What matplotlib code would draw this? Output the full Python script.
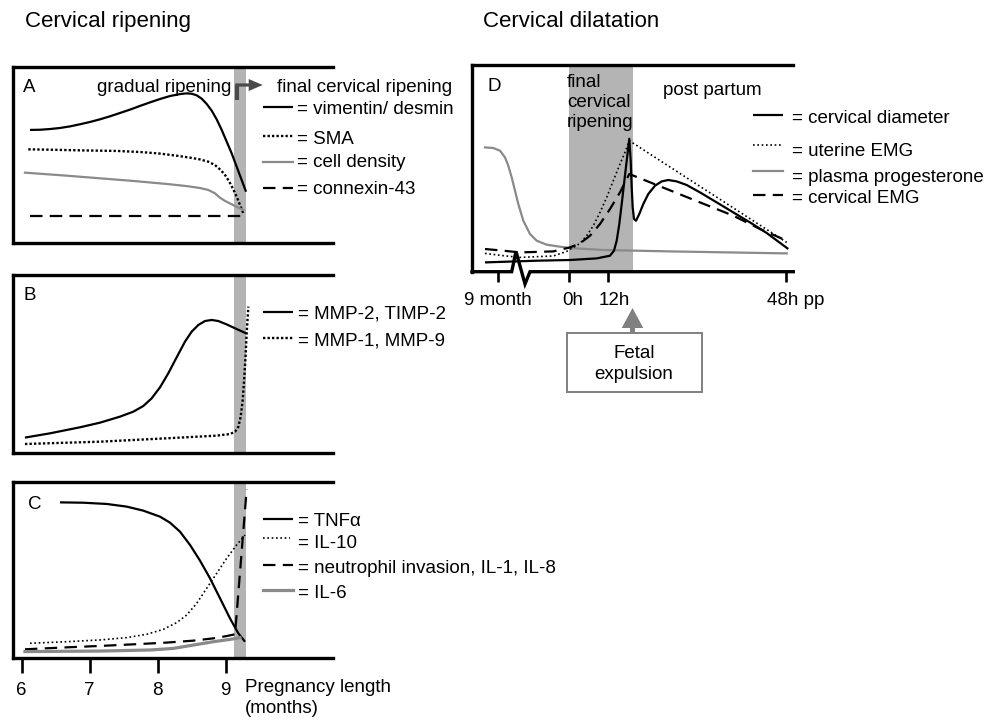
import matplotlib
matplotlib.use('Agg')
import matplotlib.pyplot as plt
from matplotlib import transforms
from matplotlib.lines import Line2D
from matplotlib.patches import Rectangle, FancyArrow

plt.rcParams['font.family'] = ['Liberation Sans', 'DejaVu Sans']

# ---------------- data (schematic levels, arbitrary units) ----------------
# Panel A  (x = pregnancy month)
a_month_vim = [6.122, 6.269, 6.416, 6.563, 6.710, 6.857, 7.004, 7.151, 7.298, 7.446, 7.593, 7.740,
               7.887, 8.034, 8.181, 8.328, 8.426, 8.499, 8.573, 8.647, 8.720, 8.794, 8.867, 8.941,
               9.014, 9.088, 9.161, 9.235, 9.299]
a_vimentin = [0.642, 0.643, 0.647, 0.653, 0.662, 0.674, 0.687, 0.702, 0.719, 0.738, 0.757, 0.778,
              0.798, 0.817, 0.834, 0.845, 0.849, 0.847, 0.838, 0.819, 0.789, 0.751, 0.702, 0.642,
              0.576, 0.509, 0.434, 0.358, 0.292]
a_month_sma = [6.097, 6.416, 6.906, 7.396, 7.740, 8.034, 8.279, 8.475, 8.622, 8.744, 8.842, 8.926,
               8.990, 9.053, 9.112, 9.171, 9.220, 9.259]
a_sma = [0.532, 0.530, 0.526, 0.523, 0.517, 0.508, 0.496, 0.485, 0.475, 0.462, 0.443, 0.415,
         0.387, 0.349, 0.305, 0.255, 0.207, 0.170]
a_month_cell = [6.048, 6.661, 7.151, 7.642, 8.132, 8.426, 8.622, 8.744, 8.842, 8.916, 8.990, 9.088,
                9.186, 9.259]
a_cell = [0.400, 0.383, 0.368, 0.353, 0.336, 0.324, 0.313, 0.302, 0.283, 0.258, 0.240, 0.221,
          0.202, 0.189]
a_month_cx = [6.12, 9.26]
a_connexin = [0.156, 0.156]

# Panel B
b_month_mmp2 = [6.048, 6.416, 6.857, 7.151, 7.446, 7.642, 7.789, 7.911, 8.034, 8.156, 8.279, 8.401,
                8.499, 8.598, 8.695, 8.794, 8.892, 9.014, 9.161, 9.299]
b_mmp2 = [0.085, 0.109, 0.143, 0.169, 0.203, 0.231, 0.263, 0.306, 0.368, 0.447, 0.537, 0.625,
          0.681, 0.719, 0.741, 0.747, 0.741, 0.722, 0.696, 0.672]
b_month_mmp1 = [6.048, 7.151, 8.132, 8.867, 9.063, 9.137, 9.186, 9.220, 9.250, 9.274, 9.294, 9.308, 9.333]
b_mmp1 = [0.049, 0.062, 0.081, 0.096, 0.105, 0.118, 0.146, 0.203, 0.297, 0.428, 0.559, 0.672, 0.822]

# Panel C
c_month_tnf = [6.563, 6.906, 7.249, 7.543, 7.789, 8.034, 8.181, 8.328, 8.475, 8.622, 8.769, 8.916,
               9.063, 9.186, 9.284]
c_tnf = [0.883, 0.881, 0.874, 0.859, 0.836, 0.802, 0.768, 0.717, 0.642, 0.553, 0.453, 0.340,
         0.226, 0.141, 0.094]
c_month_il10 = [6.122, 6.661, 7.151, 7.543, 7.838, 8.083, 8.279, 8.426, 8.573, 8.720, 8.867, 9.014,
                9.161, 9.284]
c_il10 = [0.085, 0.094, 0.104, 0.117, 0.136, 0.164, 0.202, 0.245, 0.311, 0.396, 0.481, 0.566,
          0.642, 0.698]
c_month_neu = [6.048, 6.661, 7.151, 7.740, 8.132, 8.524, 8.818, 9.014, 9.137, 9.308]
c_neutrophil = [0.051, 0.062, 0.070, 0.081, 0.089, 0.100, 0.113, 0.126, 0.136, 0.957]
c_month_il6 = [6.048, 7.151, 7.887, 8.230, 8.524, 8.818, 9.063, 9.210]
c_il6 = [0.038, 0.041, 0.047, 0.056, 0.075, 0.094, 0.107, 0.117]

month_ticks = [6, 7, 8, 9]
month_labels = ['6', '7', '8', '9']
final_ripening_months = (9.12, 9.30)

# Panel D (x = schematic time position)
d_t_prog = [1, 9.3, 16, 21, 24.3, 27.7, 31, 34.3, 39.3, 46, 52.7, 62.7, 76, 86, 119.3, 186, 302.7]
d_progesterone = [124.3, 123.7, 121, 114.3, 106, 94.3, 81, 67.7, 51, 37.7, 31, 27, 25, 23.7,
                  21.7, 20.3, 18.3]
d_t_diam = [1, 52.7, 86, 112.7, 126, 130, 132.7, 135.3, 137.7, 140, 142.7, 145.3, 146.7, 147.7,
            148.7, 150, 152, 155.3, 159.3, 164.3, 171, 177.7, 184.3, 192.7, 202.7, 216, 232.7,
            249.3, 266, 282.7, 304.3]
d_diameter = [9.3, 11, 11.7, 13.3, 16, 21, 31, 47.7, 67.7, 87.7, 111, 133, 111, 84.3,
              64.3, 52.7, 51, 57.7, 67.7, 77.7, 86, 90.3, 91.7, 90.3, 86.7, 79.3, 69.3,
              59.3, 49.3, 38.7, 22.7]
d_t_uemg = [1, 19.3, 36, 69.3, 82.7, 89.3, 96, 102.7, 109.3, 116, 122.7, 129.3, 136, 141, 145.3, 302.7]
d_uterine_emg = [18.3, 16, 14.3, 15.7, 20.3, 24.3, 28.3, 36, 46, 59.3, 74.3, 91, 107.7, 119.3, 131, 29.3]
d_t_cemg = [1, 19.3, 36, 69.3, 86, 96, 106, 116, 126, 136, 145.3, 182.7, 216, 249.3, 276, 302.7]
d_cervical_emg = [22.7, 21, 19.3, 20.3, 24.3, 28.3, 36, 47.7, 62.7, 79.3, 97.7, 82.7, 69.3, 56, 42.7, 31]
d_ticks = [14.3, 85.3, 124, 302]
d_tick_labels = ['9 month', '0h', '12h', '48h pp']
d_final_ripening = (85.3, 148.7)
d_axis_break_x = [-12, 27.7, 32, 41, 46, 309.3]
d_axis_break_y = [0, 0, 20.3, -12.3, 0, 0]

# ---------------- styling ----------------
W, H = 988, 724
FS = 13.5
FS_T = 16
GREY = '#8a8a8a'
BAND = '#b4b4b4'
SPLW = 2.4

fig = plt.figure(figsize=(W / 100, H / 100), dpi=100)
PX = transforms.Affine2D().scale(1 / W, -1 / H).translate(0, 1) + fig.transFigure


def axes_px(l, t, r, b):
    return fig.add_axes([l / W, 1 - b / H, (r - l) / W, (b - t) / H])


def style_axes(ax):
    ax.spines['right'].set_visible(False)
    for s in ('left', 'top', 'bottom'):
        ax.spines[s].set_linewidth(SPLW)
    ax.set_yticks([])
    ax.patch.set_alpha(0)


def txt(x, y, s, size=FS, **kw):
    kw.setdefault('ha', 'left')
    kw.setdefault('va', 'baseline')
    fig.text(x, y, s, transform=PX, fontsize=size, **kw)


def legend_row(x0, x1, yh, xt, yt, label, **style):
    fig.add_artist(Line2D([x0, x1], [yh, yh], transform=PX, **style))
    txt(xt, yt, label)


solid = dict(color='black', lw=1.6, solid_capstyle='butt', solid_joinstyle='round')
dotted = dict(color='black', lw=1.7, linestyle=(0, (1, 0.9)))
dotted_thin = dict(color='black', lw=1.2, linestyle=(0, (1, 1.6)))
grey = dict(color=GREY, lw=1.6, solid_joinstyle='round')
grey_thick = dict(color=GREY, lw=2.3, solid_joinstyle='round')
dashed = dict(color='black', lw=1.6, linestyle=(0, (5.6, 3.3)))

XL = (5.8765, 10.582)

# ---------------- panel A ----------------
axA = axes_px(13.3, 66.7, 333.3, 243.3)
style_axes(axA)
axA.set_xticks([])
axA.set_xlim(*XL)
axA.set_ylim(0, 1)
axA.axvspan(*final_ripening_months, color=BAND, lw=0, zorder=0)
axA.plot(a_month_vim, a_vimentin, **solid)
axA.plot(a_month_sma, a_sma, **dotted)
axA.plot(a_month_cell, a_cell, **grey)
axA.plot(a_month_cx, a_connexin, **dashed)

# ---------------- panel B ----------------
axB = axes_px(13.3, 275, 333.3, 452.7)
style_axes(axB)
axB.set_xticks([])
axB.set_xlim(*XL)
axB.set_ylim(0, 1)
axB.axvspan(*final_ripening_months, color=BAND, lw=0, zorder=0)
axB.plot(b_month_mmp2, b_mmp2, **solid)
axB.plot(b_month_mmp1, b_mmp1, **dotted)

# ---------------- panel C ----------------
axC = axes_px(13.3, 481.7, 333.3, 658.3)
style_axes(axC)
axC.set_xlim(*XL)
axC.set_ylim(0, 1)
axC.axvspan(*final_ripening_months, color=BAND, lw=0, zorder=0)
axC.plot(c_month_tnf, c_tnf, **solid)
axC.plot(c_month_il10, c_il10, **dotted_thin)
axC.plot(c_month_neu, c_neutrophil, **dashed)
axC.plot(c_month_il6, c_il6, **grey_thick)
axC.set_xticks(month_ticks)
axC.set_xticklabels(month_labels, fontsize=FS)
axC.tick_params(axis='x', direction='out', length=11, width=1.9, pad=6)

# ---------------- panel D ----------------
axD = axes_px(472, 65, 793.3, 271.7)
style_axes(axD)
axD.spines['bottom'].set_visible(False)
axD.set_xlim(-12, 309.3)
axD.set_ylim(0, 206.7)
axD.axvspan(*d_final_ripening, color=BAND, lw=0, zorder=0)
axD.plot(d_t_prog, d_progesterone, **grey)
axD.plot(d_t_uemg, d_uterine_emg, **dotted_thin)
axD.plot(d_t_cemg, d_cervical_emg, **dashed)
axD.plot(d_t_diam, d_diameter, **solid)
axD.plot(d_axis_break_x, d_axis_break_y, color='black', lw=SPLW, clip_on=False,
         solid_joinstyle='miter', zorder=5)
axD.set_xticks(d_ticks)
axD.set_xticklabels(d_tick_labels, fontsize=FS)
axD.tick_params(axis='x', direction='out', length=7.5, width=1.9, pad=7)
d_label_shift = [0, 3, 6, 10]
for lab, dx in zip(axD.get_xticklabels(), d_label_shift):
    lab.set_transform(lab.get_transform() + transforms.ScaledTranslation(dx / 100, 0, fig.dpi_scale_trans))

# ---------------- texts ----------------
txt(25, 27, 'Cervical ripening', size=FS_T)
txt(483, 27, 'Cervical dilatation', size=FS_T)

txt(23, 92, 'A')
txt(97, 92, 'gradual ripening')
txt(277, 92, 'final cervical ripening')
txt(23, 300, 'B')
txt(28, 509, 'C')
txt(487, 91, 'D')
txt(567, 74, 'final\ncervical\nripening', va='top', linespacing=1.22)
txt(663, 95, 'post partum')
txt(245, 692, 'Pregnancy length')
txt(245, 713, '(months)')

# bent arrow in panel A
ARROW_C = '#4a4a4a'
fig.add_artist(Line2D([236.7, 236.7], [100, 85], transform=PX, color=ARROW_C, lw=3, solid_capstyle='butt'))
fig.add_artist(FancyArrow(235.2, 85, 27.5, 0, width=3.2, head_width=12, head_length=14,
                          length_includes_head=True, transform=PX, color=ARROW_C, lw=0))

# legends
legend_row(263, 293, 106.7, 297, 113.5, '= vimentin/ desmin', **solid)
legend_row(263, 293, 136, 297, 143.5, '= SMA', **dotted)
legend_row(263, 293, 161.7, 297, 167, '= cell density', **grey)
legend_row(263, 293, 188.3, 297, 194.5, '= connexin-43', **dashed)

legend_row(263, 293, 311.7, 298, 318.5, '= MMP-2, TIMP-2', **solid)
legend_row(263, 293, 338.3, 298, 345, '= MMP-1, MMP-9', **dotted)

legend_row(263, 293, 519.3, 298, 526.5, '= TNF\u03b1', **solid)
legend_row(263, 290, 538.3, 298, 548, '= IL-10', **dotted_thin)
legend_row(263, 293, 565, 298, 573, '= neutrophil invasion, IL-1, IL-8', **dashed)
legend_row(263, 293, 590, 298, 598, '= IL-6', **grey_thick)

legend_row(753, 783, 115, 792, 123, '= cervical diameter', **solid)
legend_row(753, 781, 145, 792, 156.5, '= uterine EMG', **dotted_thin)
legend_row(753, 783, 170.7, 792, 182.5, '= plasma progesterone', **grey)
legend_row(753, 783, 195, 792, 203, '= cervical EMG', **dashed)

# fetal expulsion box and arrow
fig.add_artist(FancyArrow(632.5, 333.5, 0, -25.5, width=5, head_width=21.6, head_length=20,
                          length_includes_head=True, transform=PX, color='#808080', lw=0))
fig.add_artist(Rectangle((566.7, 333.3), 135, 59, transform=PX, facecolor='white',
                         edgecolor='#808080', lw=1.4))
txt(634, 364, 'Fetal\nexpulsion', ha='center', va='center', multialignment='center', linespacing=1.35)

fig.savefig('out.png', dpi=100)
